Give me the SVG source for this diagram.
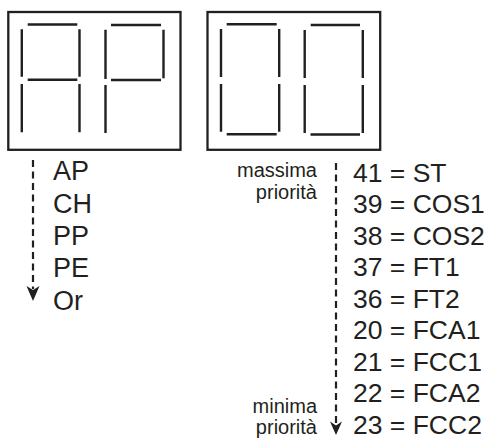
<svg xmlns="http://www.w3.org/2000/svg" width="486" height="439" viewBox="0 0 486 439">
<style>
.box{fill:none;stroke:#231f20;stroke-width:2.3}
.seg{stroke:#231f20;stroke-width:2.4;stroke-linecap:butt;fill:none}
.dash{stroke:#231f20;stroke-width:2.2;fill:none;stroke-dasharray:7 4.5}
.head{fill:#231f20}
.big{font-family:"Liberation Sans",Arial,sans-serif;font-size:26.5px;fill:#231f20}
.left{font-size:27px}
.small{font-family:"Liberation Sans",Arial,sans-serif;font-size:20px;fill:#231f20;text-anchor:end}
</style>
<g id="display-AP">
<rect class="box" x="8.3" y="12" width="172.2" height="137.8"/>
<path class="seg" d="M27.7,24.5H77.3 M21.8,29.3V76.7 M79.5,29.3V76.7 M27.7,79.7H77.3 M21.8,84V132.3 M79.5,84V132.3"/>
<path class="seg" d="M111,25H161 M105.5,29.7V79 M163.5,29.7V78.3 M111,80H161 M105.5,85V133"/>
</g>
<g id="display-00">
<rect class="box" x="207.5" y="12" width="172.7" height="137.8"/>
<path class="seg" d="M226.7,24.3H276.7 M221,29V77 M279.2,29V77 M221,84V131.7 M279.2,84V131.7 M226.7,134.3H276.7"/>
<path class="seg" d="M310.7,25H360 M304.7,30V78 M362.8,30V78 M304.7,85V133 M362.8,85V133 M310.5,134.5H360"/>
</g>
<g id="connectors">
<line class="dash" x1="33" y1="160" x2="33" y2="289"/>
<path class="head" d="M33,301 L26.5,286 L33,290 L39.5,286 Z"/>
<line class="dash" x1="336" y1="163" x2="336" y2="425"/>
<path class="head" d="M336,435 L330,421.5 L336,425.5 L342,421.5 Z"/>
</g>
<g id="list-left">
<text class="big left" x="53" y="180">AP</text>
<text class="big left" x="53" y="212.5">CH</text>
<text class="big left" x="53" y="245">PP</text>
<text class="big left" x="53" y="277">PE</text>
<text class="big left" x="53" y="309.5">Or</text>
</g>
<g id="labels-priority">
<text class="small" x="317" y="177">massima</text>
<text class="small" x="317" y="198.5">priorità</text>
<text class="small" x="317" y="412.5">minima</text>
<text class="small" x="317" y="434">priorità</text>
</g>
<g id="list-right">
<text class="big" x="353" y="181.5">41 = ST</text>
<text class="big" x="353" y="213">39 = COS1</text>
<text class="big" x="353" y="244.5">38 = COS2</text>
<text class="big" x="353" y="276">37 = FT1</text>
<text class="big" x="353" y="307.5">36 = FT2</text>
<text class="big" x="353" y="339">20 = FCA1</text>
<text class="big" x="353" y="370.5">21 = FCC1</text>
<text class="big" x="353" y="402">22 = FCA2</text>
<text class="big" x="353" y="433.5">23 = FCC2</text>
</g>
</svg>
